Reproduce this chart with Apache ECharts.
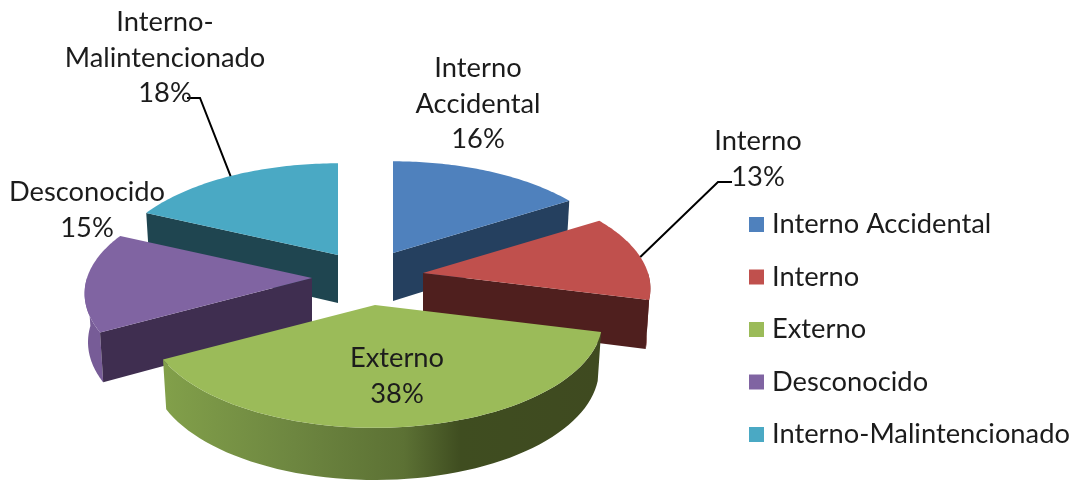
<!DOCTYPE html>
<html><head><meta charset="utf-8">
<style>html,body{margin:0;padding:0;background:#fff}#c{width:1076px;height:481px}</style>
<script src="https://cdn.jsdelivr.net/npm/echarts@6/dist/echarts.min.js"></script>
</head><body><div id="c"></div>
<script>
const categories = ['Interno Accidental','Interno','Externo','Desconocido','Interno-Malintencionado'];
const values = [16,13,38,15,18];
const labelNames = ['Interno\nAccidental','Interno','Externo','Desconocido','Interno-\nMalintencionado'];

const topColors  = ['#4f81bd','#c0504d','#9bbb59','#8064a2','#4aa9c4'];
const wallColors = ['#25405f','#4f1f1e','#3f4d20','#3f2e50','#1f4550'];
const rimColors  = ['#25405f','#7d2f2d',null,'#775c97','#1f4550'];
const wallEdge   = ['end','end',null,'start','start'];
const drawOrder  = [0,2,4,3,1];
const center = [365,275];
const explode = [[28,-22],[58,-2],[10,30],[-53,3],[-27,-20]];
const A = 225, B = 105, K = 0.145, DEPTH = 48;
const labelPos = [[478,104],[758,159],[397,376],[87,210],[165,58]];
const leaderEnds = [null,[[718,182],[732,182]],null,null,[[200,98],[187,98]]];
const FONT = '27.3px Lato, Carlito, sans-serif';
const TEXT = '#1c1c1c';

const total = values.reduce((a,b)=>a+b,0);
function proj(t){const u=Math.sin(t),v=Math.cos(t),s=1/(1+K*v);return [A*u*s,-B*v*s,v];}
function renderFor(i){
  let s=0; for(let j=0;j<i;j++) s+=values[j];
  return function(params,api){
    const a0=s/total*2*Math.PI, a1=(s+api.value(0))/total*2*Math.PI;
    const ax=center[0]+explode[i][0], ay=center[1]+explode[i][1];
    const top=t=>{const p=proj(t);return [ax+p[0],ay+p[1]];};
    const bot=t=>{const p=proj(t);return [ax+p[0]*0.985,ay+p[1]+DEPTH/(1+0.08*p[2])];};
    const apexBot=[ax,ay+DEPTH];
    const kids=[];
    const N=60;
    const r0=Math.max(a0,Math.PI/2), r1=Math.min(a1,1.5*Math.PI);
    if(r1>r0){
      const up=[],dn=[];
      for(let k=0;k<=N;k++){const t=r0+(r1-r0)*k/N;up.push(top(t));dn.unshift(bot(t));}
      const fill = rimColors[i] || new echarts.graphic.LinearGradient(0,0,1,0,[
        {offset:0,color:'#82a04a'},{offset:0.3,color:'#6d8640'},{offset:0.55,color:'#5c7134'},
        {offset:0.68,color:'#3f4d20'},{offset:1,color:'#3f4a20'}]);
      kids.push({type:'polygon',z2:1,shape:{points:up.concat(dn)},style:{fill:fill}});
    }
    if(wallEdge[i]){
      const t=wallEdge[i]==='end'?a1:a0;
      kids.push({type:'polygon',z2:2,shape:{points:[[ax,ay],top(t),bot(t),apexBot]},style:{fill:wallColors[i]}});
    }
    const pts=[[ax,ay]];
    for(let k=0;k<=N;k++) pts.push(top(a0+(a1-a0)*k/N));
    kids.push({type:'polygon',z2:3,shape:{points:pts},style:{fill:topColors[i]}});
    if(leaderEnds[i]){
      kids.push({type:'polyline',z2:4,shape:{points:[top((a0+a1)/2)].concat(leaderEnds[i])},
        style:{fill:null,stroke:'#000',lineWidth:2}});
    }
    kids.push({type:'text',z2:5,style:{text:labelNames[i]+'\n'+api.value(0)+'%',
      x:labelPos[i][0],y:labelPos[i][1],align:'center',verticalAlign:'middle',
      font:FONT,lineHeight:35.5,fill:TEXT}});
    return {type:'group',children:kids};
  };
}
const chart=echarts.init(document.getElementById('c'),null,{renderer:'canvas'});
chart.setOption({
  animation:false,
  backgroundColor:'#fff',
  legend:{orient:'vertical',left:744,top:205,itemWidth:15,itemHeight:15,itemGap:23.5,
    icon:'rect',data:categories,selectedMode:false,
    textStyle:{fontFamily:'Lato, Carlito, sans-serif',fontSize:27.3,color:TEXT,lineHeight:29,padding:[0,0,0,3]}},
  series:categories.map((name,i)=>({
    type:'custom',name:name,coordinateSystem:'none',silent:true,
    z:2+drawOrder[i],clip:false,
    itemStyle:{color:topColors[i]},
    data:[[values[i]]],
    encode:{value:0},
    renderItem:renderFor(i)
  }))
});
</script></body></html>
